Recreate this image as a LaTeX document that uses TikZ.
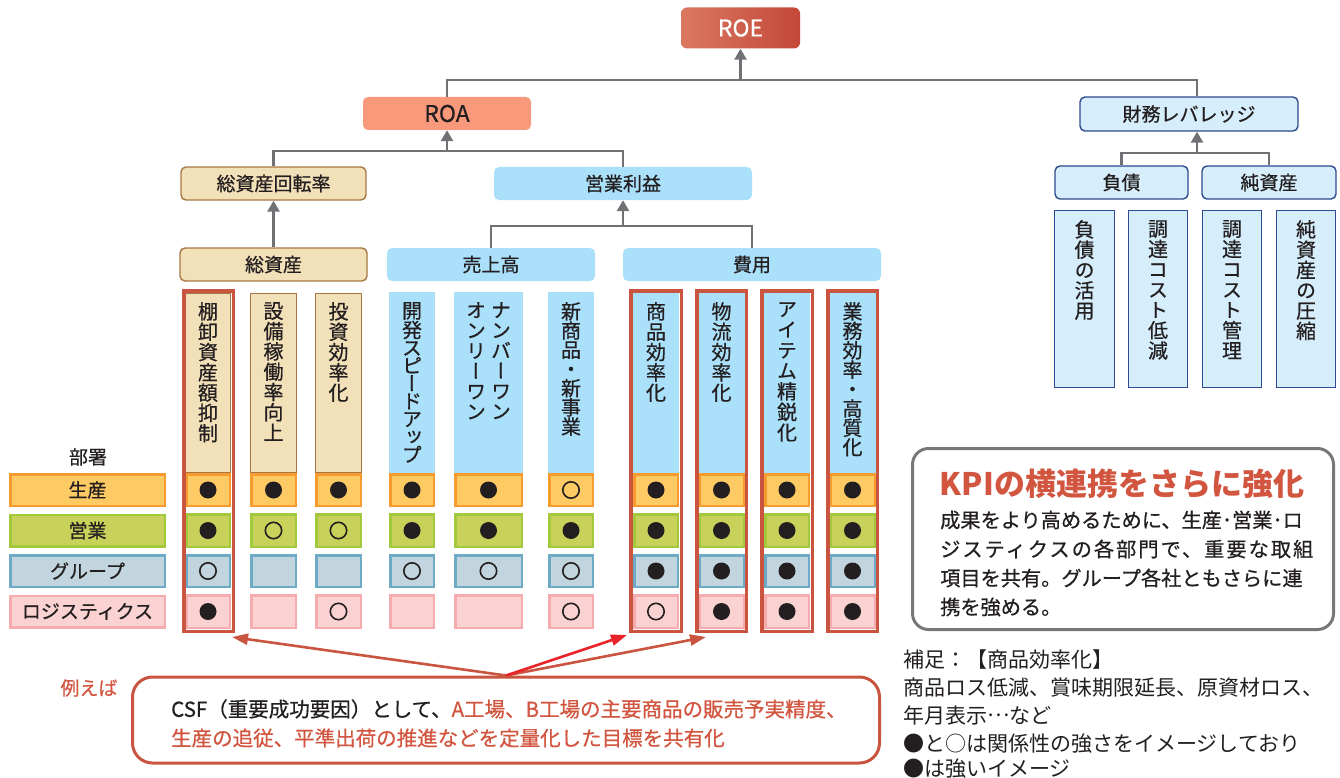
\documentclass[tikz,border=0pt]{standalone}
\usepackage{fontspec}
\setmainfont{Noto Sans CJK JP}
\newfontfamily\mjp{Noto Sans CJK JP}[FakeBold=0.6]
\newfontfamily\vjp{Noto Sans CJK JP}[RawFeature=+vert, FakeBold=0.6]
\usetikzlibrary{arrows.meta}
\definecolor{txt}{HTML}{231F20}
\definecolor{conng}{HTML}{707174}
\definecolor{roeL}{HTML}{DA7862}
\definecolor{roeR}{HTML}{C4483A}
\definecolor{roaF}{HTML}{F7997A}
\definecolor{beige}{HTML}{F2E0B9}
\definecolor{brownb}{HTML}{A67744}
\definecolor{lblue}{HTML}{AAE0FA}
\definecolor{pblue}{HTML}{D6EEFB}
\definecolor{nblue}{HTML}{2D4B8E}
\definecolor{frame}{HTML}{C9543F}
\definecolor{bred}{HTML}{E8232A}
\definecolor{kred}{HTML}{D2553F}
\definecolor{kgray}{HTML}{77787B}
\definecolor{r1f}{HTML}{FDCA63}\definecolor{r1b}{HTML}{F89B2E}
\definecolor{r2f}{HTML}{C8D15A}\definecolor{r2b}{HTML}{A2C93C}
\definecolor{r3f}{HTML}{C2D5DE}\definecolor{r3b}{HTML}{6DAAC6}
\definecolor{r4f}{HTML}{FBD2D2}\definecolor{r4b}{HTML}{F6ABAF}
\begin{document}
\begin{tikzpicture}[x=1pt,y=-1pt,
  box/.style={rounded corners=5pt, minimum height=33pt, inner sep=0pt, text=txt, font=\mjp\fontsize{19}{19}\selectfont},
  beigebox/.style={box, fill=beige, draw=brownb, line width=1.4pt},
  bluebox/.style={box, fill=lblue},
  navybox/.style={box, fill=pblue, draw=nblue, line width=1.4pt},
  conn/.style={draw=conng, line width=2.6pt},
  up/.style={conn, -{Triangle[length=11pt,width=12pt]}},
  vt/.style={anchor=north, inner sep=0pt, align=center, text=txt, font=\vjp\fontsize{20}{20.3}\selectfont},
  lab/.style={inner sep=0pt, minimum width=154.5pt, minimum height=31.5pt, line width=2.5pt, text=txt, font=\mjp\fontsize{19}{19}\selectfont},
  plain/.style={inner sep=0pt, anchor=west, text=txt},
  csfarrow/.style={draw=frame, line width=2.6pt, -{Triangle[length=16pt,width=11pt]}},
]
\useasboundingbox (0,0) rectangle (1340,778);

% ---- tree ----
\node[box, minimum width=119pt, minimum height=41pt, left color=roeL, right color=roeR, text=white, rounded corners=6pt, font=\mjp\fontsize{23}{23}\selectfont] (roe) at (740.5,28) {ROE};
\node[box, minimum width=168pt, fill=roaF, font=\mjp\fontsize{23}{23}\selectfont] (roa) at (447,113.5) {ROA};
\node[navybox, minimum width=218pt, minimum height=34pt] (zaimu) at (1189,114) {財務レバレッジ};
\node[beigebox, minimum width=185pt] (kaiten) at (273.5,183.5) {総資産回転率};
\node[bluebox, minimum width=258pt] (eigyo) at (623,183.5) {営業利益};
\node[beigebox, minimum width=187pt] (soushisan) at (273.5,264.5) {総資産};
\node[bluebox, minimum width=208pt] (uriage) at (491,264.5) {売上高};
\node[bluebox, minimum width=258pt] (hiyo) at (752,264.5) {費用};
\node[navybox, minimum width=133pt] (fusai) at (1121.5,182.5) {負債};
\node[navybox, minimum width=134pt] (junshi) at (1269,182.5) {純資産};

\coordinate (j1) at (740.5,80);
\coordinate (j2) at (447,151);
\coordinate (j3) at (623,226);
\coordinate (j4) at (1197,153);
\draw[conn] (roa.north) -- (roa.north |- j1) -- ([xshift=8pt]zaimu.north |- j1) -- ([xshift=8pt]zaimu.north);
\draw[up] (j1) -- (roe.south);
\draw[conn] (kaiten.north) -- (kaiten.north |- j2) -- (eigyo.north |- j2) -- (eigyo.north);
\draw[up] (j2) -- (roa.south);
\draw[up] (soushisan.north) -- (kaiten.south);
\draw[conn] (uriage.north) -- (uriage.north |- j3) -- (hiyo.north |- j3) -- (hiyo.north);
\draw[up] (j3) -- (eigyo.south);
\draw[conn] (fusai.north) -- (fusai.north |- j4) -- (junshi.north |- j4) -- (junshi.north);
\draw[up] (j4) -- ([xshift=8pt]zaimu.south);

% ---- column headers ----
\foreach \l/\r in {185/231,250/297,315/362}
  \path[fill=beige,draw=brownb,line width=1.4pt] (\l+0.7,293.7) rectangle (\r-0.7,473);
\foreach \l/\r in {389/435,454/523,548/594,633/679,698/745,764/810,829/876}
  \fill[lblue] (\l,292) rectangle (\r,473);
\foreach \l/\r in {1054/1115,1128/1188,1202/1262,1276/1336}
  \path[fill=pblue,draw=nblue,line width=1.4pt] (\l+0.7,210.7) rectangle (\r-0.7,387.3);

% ---- cells ----
\foreach \l/\r in {185/231,250/297,315/362,389/435,454/523,548/594,633/679,698/745,764/810,829/876}{
  \foreach \t/\b/\cf/\cb in {473/507/r1f/r1b,513/548/r2f/r2b,554/588/r3f/r3b,594/629/r4f/r4b}{
    \path[fill=\cf,draw=\cb,line width=2.5pt] (\l+1.25,\t+1.25) rectangle (\r-1.25,\b-1.25);
  }
}

% ---- row labels ----
\node[text=txt, inner sep=0pt, font=\mjp\fontsize{19}{19}\selectfont] (busho) at (88,457) {部署};
\node[lab, fill=r1f, draw=r1b] (row1) at (87.5,490) {生産};
\node[lab, fill=r2f, draw=r2b] (row2) at (87.5,530.5) {営業};
\node[lab, fill=r3f, draw=r3b] (row3) at (87.5,571) {グループ};
\node[lab, fill=r4f, draw=r4b] (row4) at (87.5,611.5) {ロジスティクス};

% ---- vertical labels ----
\node[vt] (v1) at (208,302) {棚\\卸\\資\\産\\額\\抑\\制};
\node[vt] (v2) at (273.5,302) {設\\備\\稼\\働\\率\\向\\上};
\node[vt] (v3) at (338.5,302) {投\\資\\効\\率\\化};
\node[vt, font=\vjp\fontsize{20}{17.8}\selectfont] (v4) at (412,302) {開\\発\\ス\\ピ\\ー\\ド\\ア\\ッ\\プ};
\node[vt] (v5a) at (501,302) {ナ\\ン\\バ\\ー\\ワ\\ン};
\node[vt] (v5b) at (476,302) {オ\\ン\\リ\\ー\\ワ\\ン};
\node[vt, font=\vjp\fontsize{20}{19.2}\selectfont] (v6) at (571,302) {新\\商\\品\\・\\新\\事\\業};
\node[vt] (v7) at (656,302) {商\\品\\効\\率\\化};
\node[vt] (v8) at (721.5,302) {物\\流\\効\\率\\化};
\node[vt, font=\vjp\fontsize{20}{20.6}\selectfont] (v9) at (787,302) {ア\\イ\\テ\\ム\\精\\鋭\\化};
\node[vt, font=\vjp\fontsize{20}{19.4}\selectfont] (v10) at (852.5,302) {業\\務\\効\\率\\・\\高\\質\\化};
\node[vt] (f1) at (1084.5,220) {負\\債\\の\\活\\用};
\node[vt] (f2) at (1158,220) {調\\達\\コ\\ス\\ト\\低\\減};
\node[vt] (f3) at (1232,220) {調\\達\\コ\\ス\\ト\\管\\理};
\node[vt] (f4) at (1306,220) {純\\資\\産\\の\\圧\\縮};

% ---- symbols ----
\foreach \x/\y in {208/490,208/530.5,208/611.5,273.5/490,338.5/490,412/490,412/530.5,488.5/490,488.5/530.5,571/530.5,656/490,656/530.5,656/571,
  721.5/490,721.5/530.5,721.5/571,721.5/611.5,787/490,787/530.5,787/571,787/611.5,852.5/490,852.5/530.5,852.5/571,852.5/611.5}
  \fill[txt] (\x,\y) circle[radius=8.5pt];
\foreach \x/\y in {208/571,273.5/530.5,338.5/530.5,338.5/611.5,412/571,488.5/571,571/490,571/571,571/611.5,656/611.5}
  \draw[txt,line width=1.6pt] (\x,\y) circle[radius=8.2pt];

% ---- red frames ----
\foreach \l/\r in {182/235,629/683,695/748,760/814,826/879}
  \draw[frame,line width=3.5pt] (\l+1.75,290.75) rectangle (\r-1.75,631.25);

% ---- KPI box ----
\node[draw=kgray, line width=3pt, rounded corners=16pt, fill=white, minimum width=421pt, minimum height=181pt, inner sep=0pt] (kpi) at (1123,539) {};
\node[inner sep=0pt, text=kred, font=\bfseries\fontsize{31}{31}\selectfont] (kpit) at (1122,484) {KPIの横連携をさらに強化};
\node[plain, font=\mjp\fontsize{20.2}{20.2}\selectfont] (k1) at (940,520) {成果をより高めるために、生産･営業･ロ};
\node[plain, font=\mjp\fontsize{20.2}{20.2}\selectfont\addfontfeature{LetterSpace=10}] (k2) at (940,549) {ジスティクスの各部門で、重要な取組};
\node[plain, font=\mjp\fontsize{20.2}{20.2}\selectfont] (k3) at (940,578) {項目を共有。グループ各社ともさらに連};
\node[plain, font=\mjp\fontsize{20.2}{20.2}\selectfont] (k4) at (940,607) {携を強める。};

% ---- CSF box ----
\node[draw=frame, line width=3pt, rounded corners=20pt, fill=white, minimum width=747pt, minimum height=86pt, inner sep=0pt] (csf) at (506,720) {};
\node[inner sep=0pt, text=kred, font=\mjp\fontsize{19}{19}\selectfont] (tatoe) at (89,688) {例えば};
\node[plain, font=\mjp\fontsize{20.5}{20.5}\selectfont] (csf1) at (171,709) {CSF（重要成功要因）として、\textcolor{kred}{A工場、B工場の主要商品の販売予実精度、}};
\node[plain, text=kred, font=\mjp\fontsize{20.5}{20.5}\selectfont] (csf2) at (171,738) {生産の追従、平準出荷の推進などを定量化した目標を共有化};
\coordinate (t1) at (232,637);
\coordinate (t2) at (627,635);
\coordinate (t3) at (706,637);
\draw[csfarrow] (csf.north) -- (t1);
\draw[csfarrow] (csf.north) -- (t3);
\draw[csfarrow, draw=bred] (csf.north) -- (t2);

% ---- notes ----
\node[plain, font=\fontsize{21}{21}\selectfont] (n1) at (903,660) {補足：【商品効率化】};
\node[plain, font=\fontsize{21}{21}\selectfont] (n2) at (903,688) {商品ロス低減、賞味期限延長、原資材ロス、};
\node[plain, font=\fontsize{21}{21}\selectfont] (n3) at (903,715) {年月表示\raisebox{0.3em}{…}など};
\node[plain, font=\fontsize{21}{21}\selectfont] (n4) at (903,744) {●と○は関係性の強さをイメージしており};
\node[plain, font=\fontsize{21}{21}\selectfont] (n5) at (903,769) {●は強いイメージ};
\end{tikzpicture}
\end{document}
